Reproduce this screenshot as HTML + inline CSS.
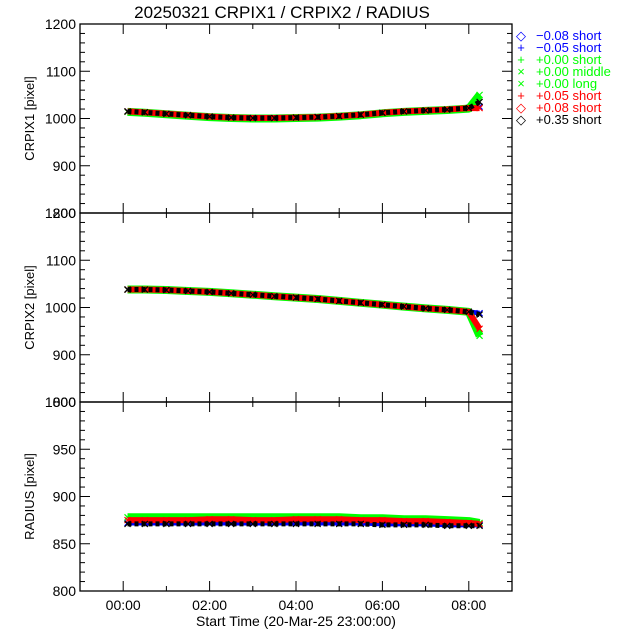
<!DOCTYPE html>
<html><head><meta charset="utf-8"><style>
body{margin:0;background:#fff}
svg{display:block;font-family:"Liberation Sans",sans-serif}
</style></head><body>
<svg id="c" width="640" height="640"></svg>
<script>
const times=[0.1,0.5,1,1.5,2,2.5,3,3.5,4,4.5,5,5.5,6,6.5,7,7.5,8,8.25];
const p1Blue=[1015,1013,1010,1007,1004,1002,1001,1001,1002,1003,1005,1008,1012,1015,1017,1019,1022,1025];
const p1Green=[1014,1012,1009,1006,1003,1001,1000,1000,1001,1002,1004,1007,1011,1014,1016,1018,1021,1050];
const p1Red=[1015,1013,1010,1007,1004,1002,1001,1001,1002,1003,1005,1008,1012,1015,1017,1019,1022,1022];
const p1Black=[1015,1013,1010,1007,1004,1002,1001,1001,1002,1003,1005,1008,1012,1015,1017,1019,1022,1035];
const p2Blue=[1038,1038,1037,1035,1033,1030,1027,1024,1021,1018,1014,1010,1006,1002,998,995,991,988];
const p2Green=[1038,1038,1037,1035,1033,1030,1027,1024,1021,1018,1014,1010,1006,1002,998,995,991,940];
const p2Red=[1038,1038,1037,1035,1033,1030,1027,1024,1021,1018,1014,1010,1006,1002,998,995,991,955];
const p2Black=[1038,1038,1037,1035,1033,1030,1027,1024,1021,1018,1014,1010,1006,1002,998,995,991,985];
const p3Blue=[872,872,872,872,872,872,872,872,872,872,872,872,871,871,871,870,870,870];
const p3Green=[878,878,878,878,878,878,878,878,878,878,878,877,877,876,876,875,874,872];
const p3Red=[875,875,875,875,876,876,875,875,876,876,876,875,875,874,874,873,872,871];
const p3Black=[871,871,871,871,871,871,871,871,871,871,871,871,870,870,870,869,869,869];
const xTickLabels=["00:00","02:00","04:00","06:00","08:00"];
const xTickHours=[0,2,4,6,8];
const legendLabels=["\u22120.08 short","\u22120.05 short","+0.00 short","+0.00 middle","+0.00 long","+0.05 short","+0.08 short","+0.35 short"];
const legendColors=["#0000ff","#0000ff","#00ff00","#00ff00","#00ff00","#ff0000","#ff0000","#000000"];
const legendSyms=["\u25C7","+","+","\u00D7","\u00D7","+","\u25C7","\u25C7"];

const NS="http://www.w3.org/2000/svg";
const svg=document.getElementById('c');
function mk(t,a,p){const e=document.createElementNS(NS,t);for(const k in a)e.setAttribute(k,a[k]);(p||svg).appendChild(e);return e;}
const L=80,R=512;
const xS=h=>L+(h+1)*(R-L)/10;
const widths={"#0000ff":5,"#00ff00":8,"#ff0000":6,"#000000":5};
const panels=[
 {top:24,bot:213,min:800,max:1200,major:100,minor:20,title:"CRPIX1  [pixel]",series:[[p1Blue,"#0000ff"],[p1Green,"#00ff00"],[p1Red,"#ff0000"],[p1Black,"#000000"]],name:"crpix1"},
 {top:213,bot:402,min:800,max:1200,major:100,minor:20,title:"CRPIX2  [pixel]",series:[[p2Blue,"#0000ff"],[p2Green,"#00ff00"],[p2Red,"#ff0000"],[p2Black,"#000000"]],name:"crpix2"},
 {top:402,bot:591,min:800,max:1000,major:50,minor:10,title:"RADIUS  [pixel]",series:[[p3Blue,"#0000ff"],[p3Green,"#00ff00"],[p3Red,"#ff0000"],[p3Black,"#000000"]],name:"radius"}
];
let t=mk('text',{x:282,y:18,'text-anchor':'middle','font-size':17});t.textContent="20250321 CRPIX1 / CRPIX2 / RADIUS";


panels.forEach(p=>{
 const yS=v=>p.bot-(v-p.min)*(p.bot-p.top)/(p.max-p.min);
 const g=mk('g',{});
 
 
 p.series.forEach(([vals,col])=>{
  const pts=times.map((h,i)=>xS(h).toFixed(1)+','+yS(vals[i]).toFixed(1)).join(' ');
  const attrs={points:pts,fill:'none',stroke:col,'stroke-width':widths[col],'stroke-linejoin':'round'};
  if(col==="#000000")attrs['stroke-dasharray']='4,3';
  const pl=mk('polyline',attrs,g);
  
  
  times.forEach((h,i)=>{
   const x=xS(h),y=yS(vals[i]);
   const m=mk('path',{d:`M${x-3},${y-3}L${x+3},${y+3}M${x-3},${y+3}L${x+3},${y-3}`,stroke:col,'stroke-width':1.2},g);
   
   
  });
 });
 const fr=mk('rect',{x:L,y:p.top,width:R-L,height:p.bot-p.top,fill:'none',stroke:'#000','stroke-width':1.3});
 
 
 for(let v=p.min;v<=p.max+0.01;v+=p.minor){
  const y=yS(v),len=(Math.abs((v-p.min)%p.major)<0.01)?10:5;
  mk('line',{x1:L,x2:L+len,y1:y,y2:y,stroke:'#000'});
  mk('line',{x1:R,x2:R-len,y1:y,y2:y,stroke:'#000'});
  if(len===10){const tl=mk('text',{x:L-4,y:y+5,'text-anchor':'end','font-size':14});tl.textContent=v;
   
   }
 }
 for(let h=-1;h<=9;h++){
  const x=xS(h),len=(h%2===0)?10:5;
  mk('line',{x1:x,x2:x,y1:p.bot,y2:p.bot-len,stroke:'#000'});
  mk('line',{x1:x,x2:x,y1:p.top,y2:p.top+len,stroke:'#000'});
 }
 const yt=mk('text',{x:0,y:0,'text-anchor':'middle','font-size':13,transform:`translate(34,${(p.top+p.bot)/2}) rotate(-90)`});
 yt.textContent=p.title;
 
 
});
xTickHours.forEach((h,i)=>{const tl=mk('text',{x:xS(h),y:610,'text-anchor':'middle','font-size':14});tl.textContent=xTickLabels[i];
 
 });
const xt=mk('text',{x:296,y:626,'text-anchor':'middle','font-size':14});xt.textContent="Start Time (20-Mar-25 23:00:00)";


legendLabels.forEach((lab,i)=>{
 const y=40+i*12;
 const g=mk('g',{fill:legendColors[i],'font-size':13});
 
 
 const s=mk('text',{x:521,y:y,'text-anchor':'middle'},g);s.textContent=legendSyms[i];
 const tx=mk('text',{x:536,y:y},g);tx.textContent=lab;
});
</script>
</body></html>
